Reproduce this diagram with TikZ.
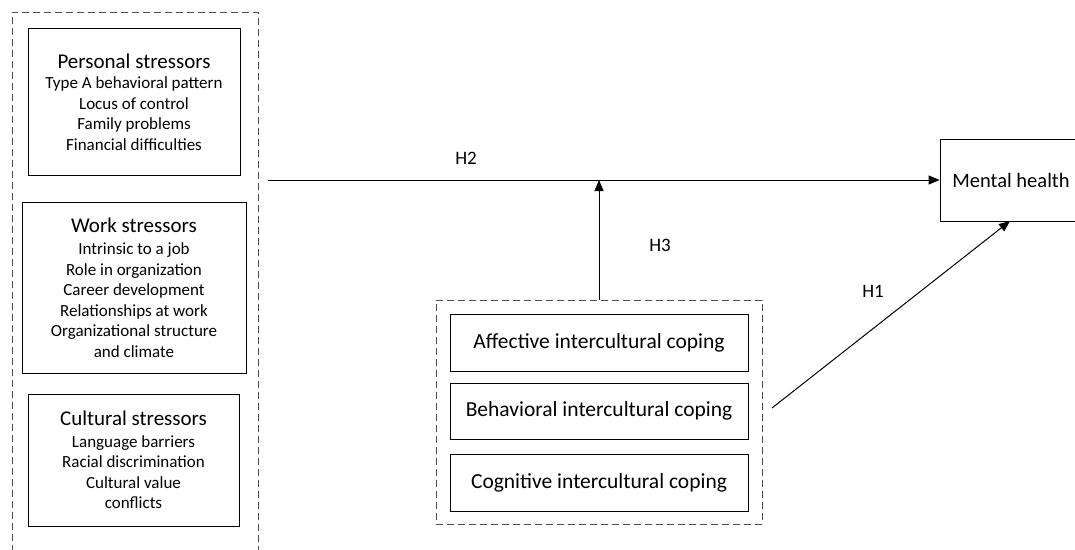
\documentclass[tikz,border=0pt]{standalone}
\usepackage{fontspec}
\setmainfont{Carlito}
\usetikzlibrary{arrows.meta}
\newcommand{\ttlfont}{\fontsize{21}{24}\selectfont}
\tikzset{
  box/.style={draw, line width=0.9pt, rectangle, align=center, inner sep=0pt},
  dbox/.style={draw=black!70, line width=0.9pt, dash pattern=on 7pt off 4pt, rectangle, inner sep=0pt},
  arr/.style={line width=1pt, -{Triangle[length=11pt,width=9pt]}},
  lab/.style={font=\fontsize{19}{22}\selectfont},
  body/.style={font=\fontsize{17}{20.5}\selectfont},
  cope/.style={font=\fontsize{21.5}{24}\selectfont}
}
\begin{document}
\begin{tikzpicture}[x=1pt,y=-1pt]
\useasboundingbox (0,0) rectangle (1075,549);
\node[dbox, minimum width=246pt, minimum height=548pt] (outer) at (135,286) {};
\node[box, body, minimum width=212pt, minimum height=147pt] (personal) at (134,102)
  {{\ttlfont Personal stressors}\\[0pt]
   Type A behavioral pattern\\
   Locus of control\\
   Family problems\\
   Financial difficulties};
\node[box, body, minimum width=224pt, minimum height=171pt] (work) at (134,287.5)
  {{\ttlfont Work stressors}\\[2pt]
   Intrinsic to a job\\
   Role in organization\\
   Career development\\
   Relationships at work\\
   Organizational structure\\
   and climate};
\node[box, body, minimum width=211pt, minimum height=132pt] (cultural) at (133.5,460)
  {{\ttlfont Cultural stressors}\\[1pt]
   Language barriers\\
   Racial discrimination\\
   Cultural value\\
   conflicts};
\node[dbox, minimum width=326pt, minimum height=224pt] (inner) at (599,412) {};
\node[box, cope, minimum width=298pt, minimum height=57pt] (aff) at (599,342.5) {Affective intercultural coping};
\node[box, cope, minimum width=298pt, minimum height=56pt] (beh) at (599,411) {Behavioral intercultural coping};
\node[box, cope, minimum width=298pt, minimum height=57pt] (cog) at (599,482.5) {Cognitive intercultural coping};
\node[box, font=\fontsize{20.5}{24}\selectfont, minimum width=142pt, minimum height=82pt] (mental) at (1011,180) {Mental health};
\coordinate (h2s) at (268,180);
\coordinate (junc) at (599,180);
\coordinate (h1s) at (772,408);
\draw[arr] (h2s) -- (mental.west);
\draw[arr] (inner.north) -- (junc);
\draw[arr] (h1s) -- (1010,221);
\node[lab] (h2) at (466,158) {H2};
\node[lab] (h3) at (660,245) {H3};
\node[lab] (h1) at (873,291) {H1};
\end{tikzpicture}
\end{document}
